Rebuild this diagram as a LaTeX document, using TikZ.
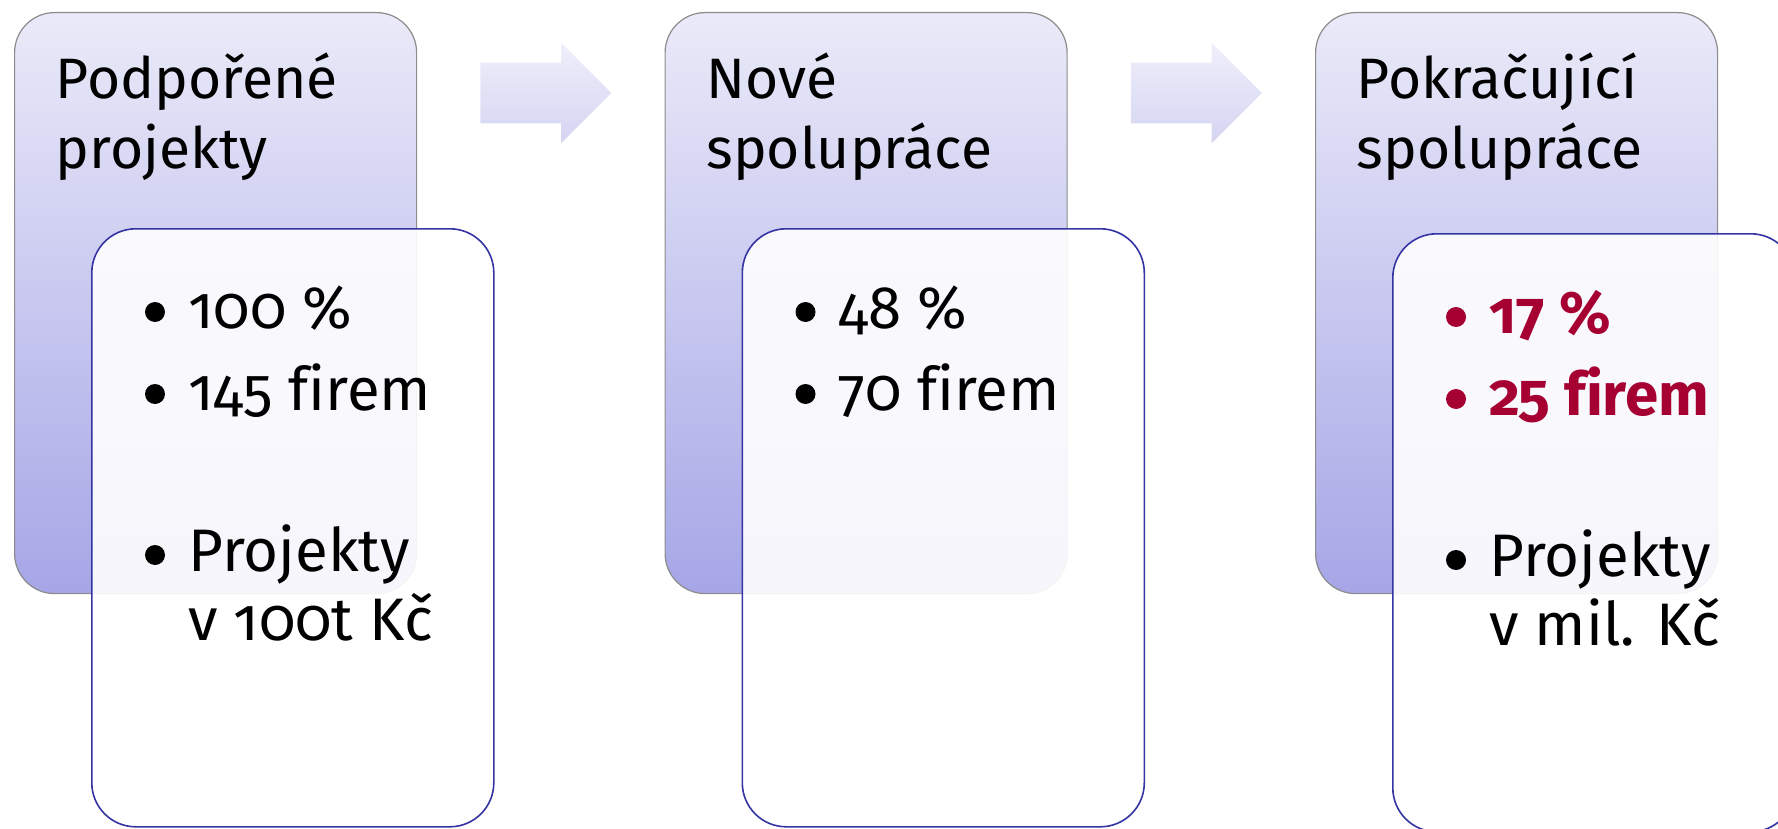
\documentclass[tikz,border=0pt]{standalone}
\usepackage{fontspec}
\setmainfont{Fira Sans}[Numbers=OldStyle,Ligatures=NoCommon]
\usepackage{tikz}
\usetikzlibrary{shapes.arrows}
\definecolor{lavtop}{RGB}{234,234,249}
\definecolor{lavbot}{RGB}{166,166,231}
\definecolor{arrtop}{RGB}{239,239,251}
\definecolor{arrbot}{RGB}{212,212,242}
\definecolor{rimblue}{RGB}{52,52,162}
\definecolor{wine}{RGB}{166,0,50}
\tikzstyle{every picture}=[x=0.5pt,y=-0.5pt]
\tikzstyle{backbox}=[rectangle, rounded corners=20pt, draw=black!45, line width=0.6pt,
                     top color=lavtop, bottom color=lavbot, inner sep=0pt,
                     minimum width=201pt, minimum height=290.5pt, anchor=north west]
\tikzstyle{frontbox}=[rectangle, rounded corners=22pt, draw=rimblue, line width=0.8pt,
                      fill=white, fill opacity=0.9, inner sep=0pt,
                      minimum width=201pt, minimum height=299pt, anchor=north west]
\tikzstyle{head}=[anchor=base west, inner sep=0pt, align=left,
                  font=\fontsize{28.5}{35}\selectfont]
\tikzstyle{entry}=[head, font=\fontsize{30}{34.5}\selectfont]
\tikzstyle{hot}=[entry, text=wine, font=\fontsize{30}{34.5}\selectfont\bfseries]
\tikzstyle{dot}=[circle, fill=black, draw=none, minimum size=10pt, inner sep=0pt]
\tikzstyle{hotdot}=[dot, fill=wine]
\tikzstyle{flow}=[single arrow, anchor=tail, draw=none, inner xsep=0pt, inner ysep=15pt,
                  single arrow head extend=10pt, minimum height=65.5pt,
                  top color=arrtop, bottom color=arrbot]

\begin{document}
\begin{tikzpicture}
  \clip (0,0) rectangle (1778,829);
  % first column
  \node[backbox] (podp) at (14,12) {};
  \node[frontbox] (podplist) at (91,228) {};
  \node[head] (podptitle) at (55.5,169) {Podpořené\\projekty};
  \node[dot] (podpdot1) at (155,312) {};
  \node[entry] (podpnum1) at (188,328) {100 \%};
  \node[dot] (podpdot2) at (155,394) {};
  \node[entry] (podpnum2) at (188,410) {145 firem};
  \node[dot] (podpdot3) at (155,555) {};
  \node[entry] (podpnum3) at (188,640) {Projekty\\v 100t Kč};
  \node[flow] (arrone) at (480,93) {};
  % second column
  \node[backbox] (nove) at (664.5,12) {};
  \node[frontbox] (novelist) at (741.5,228) {};
  \node[head] (novetitle) at (706,169) {Nové\\spolupráce};
  \node[dot] (novedot1) at (805.5,312) {};
  \node[entry] (novenum1) at (838.5,328) {48 \%};
  \node[dot] (novedot2) at (805.5,394) {};
  \node[entry] (novenum2) at (838.5,410) {70 firem};
  \node[flow] (arrtwo) at (1130.5,93) {};
  % third column
  \node[backbox] (pokr) at (1315,12) {};
  \node[frontbox] (pokrlist) at (1392,233) {};
  \node[head] (pokrtitle) at (1356.5,169) {Pokračující\\spolupráce};
  \node[hotdot] (pokrdot1) at (1456,317) {};
  \node[hot] (pokrnum1) at (1489,333) {17 \%};
  \node[hotdot] (pokrdot2) at (1456,399) {};
  \node[hot] (pokrnum2) at (1489,415) {25 firem};
  \node[dot] (pokrdot3) at (1456,560) {};
  \node[entry] (pokrnum3) at (1489,645) {Projekty\\v mil. Kč};
\end{tikzpicture}
\end{document}
